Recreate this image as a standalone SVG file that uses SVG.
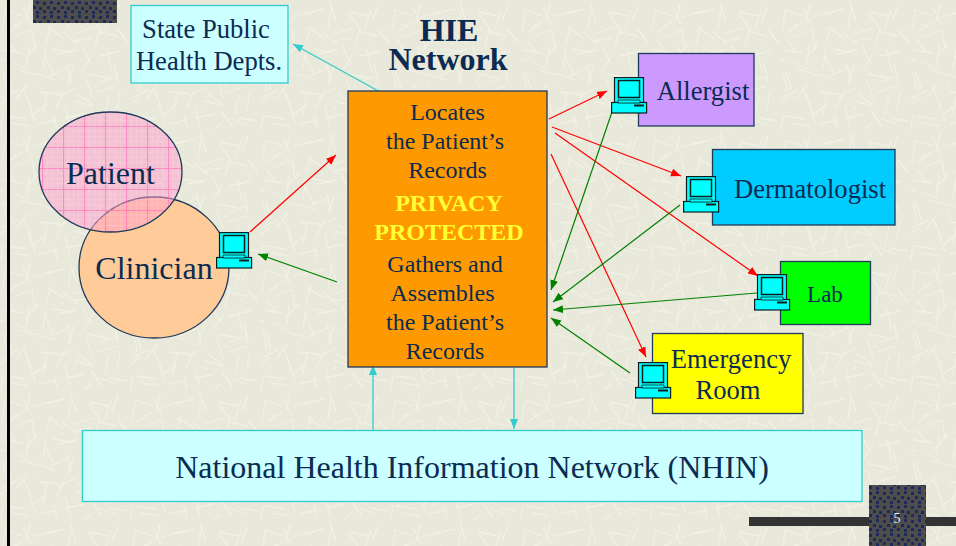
<svg xmlns="http://www.w3.org/2000/svg" width="956" height="546" viewBox="0 0 956 546">
<style>
text{font-family:"Liberation Serif","Times New Roman",serif;fill:#0B2B52;text-anchor:middle}
.box{stroke:#1F3A5A;stroke-width:1.3}
.cy{fill:#CCFFFF;stroke:#33CCCC;stroke-width:1.3}
.r{stroke:#FF0000;stroke-width:1.2;fill:none;marker-end:url(#mr)}
.g{stroke:#008000;stroke-width:1.2;fill:none;marker-end:url(#mg)}
.c{stroke:#33CCCC;stroke-width:1.3;fill:none}
.ca{marker-end:url(#mc)}
.t26{font-size:26.6px}
.t24{font-size:24px}
.t32{font-size:32px}
.b{font-weight:bold}
</style>
<defs>
<pattern id="bg" width="130" height="130" patternUnits="userSpaceOnUse">
<rect width="130" height="130" fill="#E9E9DB"/>
<g stroke="#F1F1E6" stroke-width="1.3" fill="none" stroke-linecap="round">
<g id="strokes">
<path d="M5 10l18 6M30 4l-4 17M44 14l20-5M70 3l6 18M90 12l18 4M118 6l-6 15M8 32l14-10M32 30l3 18M48 28l16 10M74 34l18-6M100 28l-5 18M118 30l10 12"/>
<path d="M4 50l18 3M26 58l12-14M46 50l-3 18M58 54l18-4M82 46l8 16M100 56l20-5M6 72l5 17M20 70l17 5M50 76l17-8M74 66l-6 18M88 74l20 4M114 64l4 18"/>
<path d="M2 98l16-8M24 90l7 17M40 92l19 2M64 92l-8 16M78 94l14 10M98 92l18-6M120 92l-3 17M6 116l19 3M34 114l12-9M54 116l3 12M66 118l18-4M92 112l10 14M110 118l17 3"/>
</g>
<use href="#strokes" transform="rotate(90 65 65) translate(6 9)" opacity=".8"/>
</g>
<g fill="#FAFAF2"><circle cx="15" cy="25" r=".7"/><circle cx="62" cy="44" r=".7"/><circle cx="95" cy="86" r=".7"/><circle cx="38" cy="82" r=".7"/><circle cx="112" cy="40" r=".7"/><circle cx="75" cy="108" r=".7"/></g>
</pattern>
<pattern id="dk" width="14" height="14" patternUnits="userSpaceOnUse">
<rect width="14" height="14" fill="#4D4D4D"/>
<g fill="#1F2A5C"><rect x="1" y="2" width="3" height="3"/><rect x="8" y="1" width="3" height="3"/><rect x="5" y="6" width="3" height="3"/><rect x="11" y="7" width="3" height="3"/><rect x="1" y="10" width="3" height="3"/><rect x="8" y="11" width="3" height="3"/></g>
</pattern>
<pattern id="grid" width="21" height="21" patternUnits="userSpaceOnUse">
<path d="M0 .5H21M.5 0V21" stroke="#FF66B8" stroke-width="1.2" fill="none"/>
<path d="M0 5.200H21M0 10.500H21M0 15.700H21M5.200 0V21M10.500 0V21M15.700 0V21" stroke="#FFFFFF" stroke-opacity=".25" stroke-width=".8" fill="none"/>
</pattern>
<marker id="mr" markerUnits="userSpaceOnUse" markerWidth="11" markerHeight="9" refX="10" refY="4" orient="auto"><path d="M0 0L10 4L0 8z" fill="#FF0000"/></marker>
<marker id="mg" markerUnits="userSpaceOnUse" markerWidth="11" markerHeight="9" refX="10" refY="4" orient="auto"><path d="M0 0L10 4L0 8z" fill="#008000"/></marker>
<marker id="mc" markerUnits="userSpaceOnUse" markerWidth="11" markerHeight="9" refX="10" refY="4" orient="auto"><path d="M0 0L10 4L0 8z" fill="#33CCCC"/></marker>
<symbol id="pc" width="37" height="37" viewBox="0 0 37 37">
<g stroke="#0E1E1E" stroke-width="1.2" fill="#00FFFF">
<rect x="3.500" y=".6" width="29" height="25"/>
<rect x="7.500" y="3.500" width="21" height="17" stroke-width="1.5"/>
<rect x=".6" y="25.500" width="35" height="10.500"/>
</g>
<path d="M7 23h22v3H7z" fill="#00FFFF" stroke="#0E1E1E" stroke-width=".8"/>
<rect x="23" y="27.500" width="10" height="2" fill="#0E1E1E"/>
</symbol>
</defs>
<rect id="background" width="956" height="546" fill="url(#bg)"/>
<rect x="7" y="0" width="3" height="546" fill="#000"/>
<rect x="33" y="0" width="84" height="23" fill="url(#dk)"/>
<rect x="749" y="517" width="207" height="9" fill="#333"/>
<rect x="869" y="485" width="57" height="61" fill="url(#dk)"/>
<text x="897" y="523" font-size="14" style="fill:#EEE">5</text>

<g id="connectors">
<path class="c ca" d="M382 93L293 44"/>
<path class="c ca" d="M373 430V365"/>
<path class="c ca" d="M514 368V429"/>
<path class="r" d="M250 232L336 155"/>
<path class="g" d="M337 282L258 254"/>
<path class="r" d="M549 119L607 91"/>
<path class="r" d="M552 127L681 176"/>
<path class="r" d="M555 133L758 276"/>
<path class="r" d="M551 154L646 357"/>
<path class="g" d="M612 112L551 290"/>
<path class="g" d="M680 205L553 302"/>
<path class="g" d="M757 293L553 310"/>
<path class="g" d="M630 373L551 318"/>
</g>

<g id="state"><rect class="cy" x="131" y="5.500" width="157" height="77.500"/>
<text class="t26" x="206" y="38">State Public</text><text class="t26" x="209" y="70">Health Depts.</text></g>
<g id="title"><text class="t32 b" x="449" y="41">HIE</text><text class="t32 b" x="448" y="70">Network</text></g>

<g id="clinician"><ellipse class="box" cx="154" cy="267.500" rx="75" ry="70.500" fill="#FFCC99"/></g>
<g id="patient"><ellipse cx="110.500" cy="172" rx="71.500" ry="60" fill="#FF99CC" fill-opacity=".5"/><ellipse class="box" cx="110.500" cy="172" rx="71.500" ry="60" fill="url(#grid)" fill-opacity=".6"/><text class="t32" x="110.500" y="184">Patient</text></g>
<text class="t32" x="154" y="279">Clinician</text>
<use href="#pc" x="216" y="232"/>

<g id="hie"><rect class="box" x="348" y="91" width="199" height="276" fill="#FF9900"/>
<g class="t24">
<text x="447.500" y="120">Locates</text>
<text x="445" y="149">the Patient’s</text>
<text x="447.500" y="178">Records</text>
<text class="b" x="449" y="211" style="fill:#FFFF33">PRIVACY</text>
<text class="b" x="449" y="240" style="fill:#FFFF33">PROTECTED</text>
<text x="445" y="272">Gathers and</text>
<text x="442.500" y="301">Assembles</text>
<text x="445" y="330">the Patient’s</text>
<text x="445" y="359">Records</text>
</g></g>

<g id="allergist"><rect class="box" x="638.500" y="53.500" width="115.500" height="72.500" fill="#CC99FF"/><text class="t26" x="703" y="100">Allergist</text><use href="#pc" x="611" y="77"/></g>
<g id="dermatologist"><rect class="box" x="712.500" y="149.500" width="182.500" height="75.500" fill="#00CCFF"/><text class="t26" x="810" y="198">Dermatologist</text><use href="#pc" x="683" y="176"/></g>
<g id="lab"><rect class="box" x="780.500" y="261.500" width="90" height="63" fill="#00FF00"/><text x="825" y="302" style="font-size:23px">Lab</text><use href="#pc" x="754" y="274"/></g>
<g id="er"><rect class="box" x="652.500" y="333.500" width="150.500" height="80" fill="#FFFF00"/><text class="t26" x="731" y="368">Emergency</text><text class="t26" x="728" y="399">Room</text><use href="#pc" x="635" y="362"/></g>

<g id="nhin"><rect class="cy" x="82.500" y="430.500" width="779.500" height="71"/><text class="t32" x="472" y="478">National Health Information Network (NHIN)</text></g>
</svg>
